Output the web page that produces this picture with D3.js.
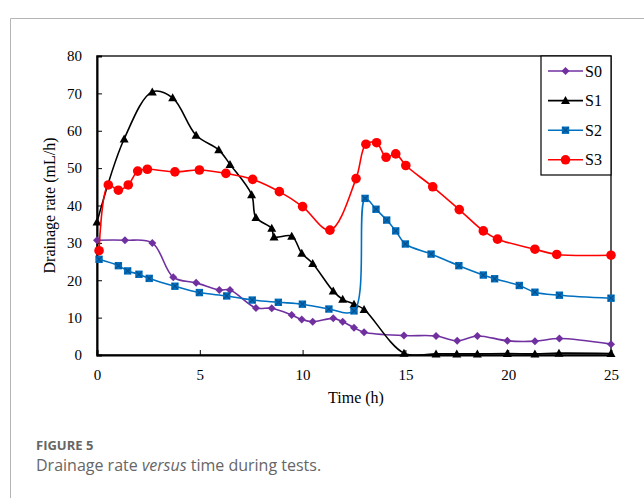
<!DOCTYPE html>
<html>
<head>
<meta charset="utf-8">
<script src="https://cdn.jsdelivr.net/npm/d3@7"></script>
<style>
  body { margin: 0; background: #fff; }
  svg { display: block; }
</style>
</head>
<body>
<svg id="chart"></svg>
<script>
// values
var names = ["S0", "S1", "S2", "S3"];

var t0 = [0, 1.36, 2.69, 3.71, 4.82, 5.95, 6.47, 7.73, 8.5, 9.47, 9.96, 10.49, 11.49, 11.95, 12.5, 12.99, 14.93, 16.49, 17.52, 18.5, 19.96, 21.3, 22.49, 25];
var s0 = [30.7, 30.7, 30.0, 20.8, 19.3, 17.4, 17.4, 12.6, 12.5, 10.7, 9.5, 8.9, 9.8, 8.9, 7.3, 6.1, 5.2, 5.1, 3.8, 5.1, 3.8, 3.7, 4.4, 2.9];

var t1 = [0, 1.32, 2.69, 3.68, 4.82, 5.92, 6.47, 7.52, 7.73, 8.5, 8.61, 9.47, 9.96, 10.49, 11.49, 11.95, 12.5, 12.99, 14.93, 16.49, 17.5, 18.5, 19.96, 21.3, 22.47, 25];
var s1 = [35.6, 57.8, 70.4, 68.8, 58.8, 54.9, 51.0, 42.9, 36.8, 33.9, 31.6, 31.8, 27.2, 24.5, 17.1, 14.9, 13.6, 12.2, 0.5, 0.3, 0.3, 0.3, 0.4, 0.3, 0.5, 0.4];

var t2 = [0.1, 1.04, 1.49, 2.04, 2.54, 3.79, 4.98, 6.31, 7.55, 8.82, 9.99, 11.28, 12.5, 13.04, 13.57, 14.09, 14.53, 15.0, 16.25, 17.6, 18.79, 19.34, 20.54, 21.3, 22.49, 25];
var s2 = [25.6, 23.9, 22.5, 21.6, 20.5, 18.4, 16.7, 15.8, 14.7, 14.1, 13.6, 12.3, 11.8, 41.9, 39.0, 36.1, 33.2, 29.7, 27.0, 23.9, 21.4, 20.4, 18.6, 16.8, 16.0, 15.2];

var t3 = [0.1, 0.55, 1.04, 1.52, 1.98, 2.45, 3.79, 4.98, 6.27, 7.57, 8.87, 10.0, 11.33, 12.6, 13.08, 13.6, 14.06, 14.53, 15.02, 16.33, 17.62, 18.79, 19.48, 21.3, 22.36, 25];
var s3 = [27.9, 45.5, 44.1, 45.5, 49.2, 49.7, 49.0, 49.5, 48.6, 47.0, 43.7, 39.7, 33.4, 47.2, 56.4, 56.8, 52.9, 53.8, 50.7, 45.0, 38.9, 33.2, 31.0, 28.3, 26.9, 26.7];

var xTicks = [0, 5, 10, 15, 20, 25];
var yTicks = [0, 10, 20, 30, 40, 50, 60, 70, 80];

var colors = ["#7030A0", "#000000", "#0070C0", "#FF0000"];
var shapes = ["diamond", "triangle", "square", "circle"];

var W = 644, H = 498;
var margin = {top: 56, right: 33, bottom: 143, left: 97};
var width = W - margin.left - margin.right,
    height = H - margin.top - margin.bottom;

var svg = d3.select("#chart").attr("width", W).attr("height", H);

// outer panel frame
svg.append("path")
    .attr("d", "M10.5," + H + "V18.5H" + W)
    .attr("fill", "none")
    .attr("stroke", "#b5b5b5")
    .attr("stroke-width", 1);

var g = svg.append("g")
    .attr("transform", "translate(" + margin.left + "," + margin.top + ")");

var x = d3.scaleLinear().domain([0, 25]).range([0, width]);
var y = d3.scaleLinear().domain([0, 80]).range([height, 0]);

var serif = "'Liberation Serif', 'Times New Roman', serif";

// plot frame
g.append("rect")
    .attr("width", width).attr("height", height)
    .attr("fill", "none").attr("stroke", "#000").attr("stroke-width", 1.3);

var xAxis = d3.axisBottom(x).tickValues(xTicks).tickSize(-5).tickPadding(14);
var yAxis = d3.axisLeft(y).tickValues(yTicks).tickSize(-5).tickPadding(15);

var gx = g.append("g").attr("transform", "translate(0," + height + ")").call(xAxis);
var gy = g.append("g").call(yAxis);

[gx, gy].forEach(function(a) {
  a.select(".domain").attr("stroke", "#000").attr("stroke-width", 2);
  a.selectAll(".tick line").attr("stroke", "#000").attr("stroke-width", 1);
  a.selectAll(".tick text")
    .attr("fill", "#000")
    .style("font-family", serif)
    .style("font-size", "15px");
});
gx.selectAll(".tick").filter(function(d) { return d === 0 || d === 25; }).select("line").remove();
gy.selectAll(".tick").filter(function(d) { return d === 0 || d === 80; }).select("line").remove();

// axis titles
g.append("text")
    .attr("x", width / 2 + 2).attr("y", height + 48)
    .attr("text-anchor", "middle")
    .style("font-family", serif).style("font-size", "16px")
    .text("Time (h)");

g.append("text")
    .attr("transform", "translate(" + (-42) + "," + (height / 2) + ") rotate(-90)")
    .attr("text-anchor", "middle")
    .style("font-family", serif).style("font-size", "16px")
    .text("Drainage rate (mL/h)");

function marker(sel, shape, color) {
  if (shape === "diamond") {
    sel.append("path").attr("d", "M0,-4L4,0L0,4L-4,0Z").attr("fill", color);
  } else if (shape === "triangle") {
    sel.append("path").attr("d", "M0,-4.5L4.5,3.5L-4.5,3.5Z").attr("fill", color);
  } else if (shape === "square") {
    sel.append("rect").attr("x", -3.7).attr("y", -3.7).attr("width", 7.4).attr("height", 7.4).attr("fill", color);
    sel.append("path").attr("d", "M-3,-3L3,3M3,-3L-3,3").attr("stroke", "#0a4f8a").attr("stroke-width", 1.1);
  } else {
    sel.append("circle").attr("r", 4.8).attr("fill", color);
  }
}

var series = [
  {t: t0, v: s0}, {t: t1, v: s1}, {t: t2, v: s2}, {t: t3, v: s3}
];

var line = d3.line()
    .x(function(d) { return x(d[0]); })
    .y(function(d) { return y(d[1]); })
    .curve(d3.curveCatmullRom.alpha(0.5));

series.forEach(function(s, i) {
  var pts = s.t.map(function(t, j) { return [t, s.v[j]]; });
  g.append("path")
      .datum(pts)
      .attr("d", line)
      .attr("fill", "none")
      .attr("stroke", colors[i])
      .attr("stroke-width", 1.6);
  g.append("g").selectAll("g")
      .data(pts)
    .enter().append("g")
      .attr("transform", function(d) { return "translate(" + x(d[0]) + "," + y(d[1]) + ")"; })
      .each(function() { marker(d3.select(this), shapes[i], colors[i]); });
});

// legend
var lg = g.append("g").attr("transform", "translate(" + (width - 70) + ",0)");
lg.append("rect")
    .attr("width", 70).attr("height", 119)
    .attr("fill", "#fff").attr("stroke", "#000").attr("stroke-width", 1.2);
names.forEach(function(n, i) {
  var row = lg.append("g").attr("transform", "translate(0," + (15 + i * 29.6) + ")");
  row.append("line").attr("x1", 7).attr("x2", 42).attr("stroke", colors[i]).attr("stroke-width", 1.6);
  marker(row.append("g").attr("transform", "translate(24.5,0)"), shapes[i], colors[i]);
  row.append("text")
      .attr("x", 44).attr("y", 5.5)
      .style("font-family", serif).style("font-size", "16px")
      .text(n);
});

// caption
var sans = "'Open Sans', 'Noto Sans', sans-serif";
svg.append("text")
    .attr("x", 36).attr("y", 450)
    .attr("fill", "#666")
    .style("font-family", sans).style("font-size", "13px").style("font-weight", "bold")
    .text("FIGURE 5");

var cap = svg.append("text")
    .attr("x", 36).attr("y", 471)
    .attr("fill", "#666")
    .style("font-family", sans).style("font-size", "16px");
cap.append("tspan").text("Drainage rate ");
cap.append("tspan").style("font-style", "italic").text("versus");
cap.append("tspan").text(" time during tests.");
</script>
</body>
</html>
